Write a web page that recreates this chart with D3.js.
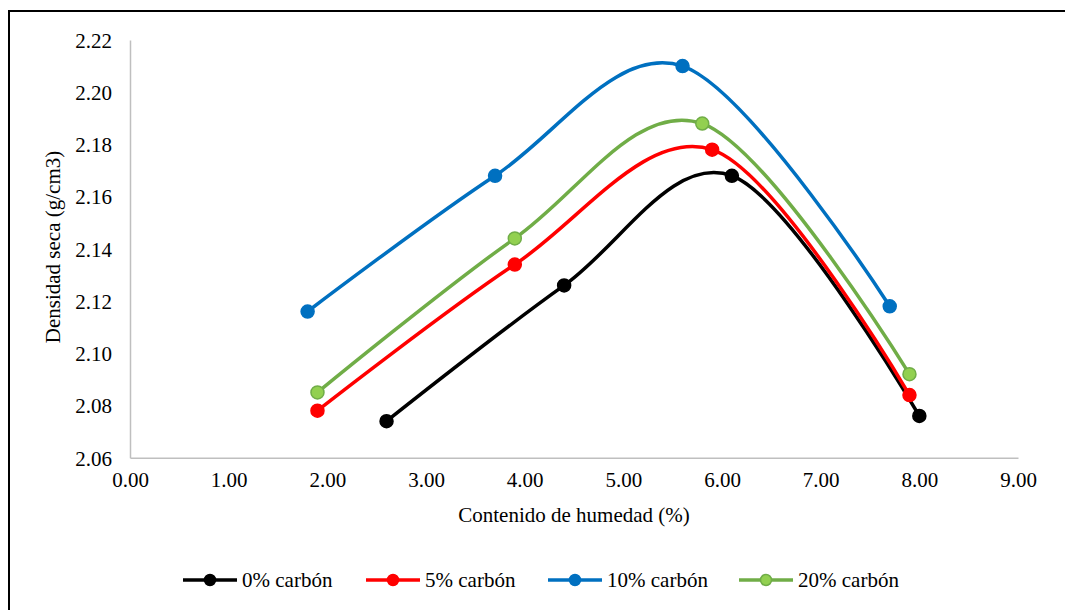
<!DOCTYPE html>
<html>
<head>
<meta charset="utf-8">
<script src="https://cdn.jsdelivr.net/npm/d3@7"></script>
<style>
  html, body { margin: 0; padding: 0; background: #fff; }
  svg { display: block; font-family: 'Liberation Serif'; }
  svg text { font-family: 'Liberation Serif' !important; }
</style>
</head>
<body>
<script>
// ---- Data ----
const seriesNames = ["0% carbón", "5% carbón", "10% carbón", "20% carbón"];
const humedad0  = [2.6, 4.4, 6.1, 8.0];
const densidad0 = [2.074, 2.126, 2.168, 2.076];
const humedad5  = [1.9, 3.9, 5.9, 7.9];
const densidad5 = [2.078, 2.134, 2.178, 2.084];
const humedad10  = [1.8, 3.7, 5.6, 7.7];
const densidad10 = [2.116, 2.168, 2.210, 2.118];
const humedad20  = [1.9, 3.9, 5.8, 7.9];
const densidad20 = [2.085, 2.144, 2.188, 2.092];
const xTicks = [0, 1, 2, 3, 4, 5, 6, 7, 8, 9];
const yTicks = [2.06, 2.08, 2.10, 2.12, 2.14, 2.16, 2.18, 2.20, 2.22];
const xTitle = "Contenido de humedad (%)";
const yTitle = "Densidad seca (g/cm3)";

const FONT = "Liberation Serif";
const FS = 21;

const styles = [
  { line: "#000000", fill: "#000000", stroke: "#000000" },
  { line: "#FF0000", fill: "#FF0000", stroke: "#FF0000" },
  { line: "#0070C0", fill: "#0070C0", stroke: "#0070C0" },
  { line: "#70AD47", fill: "#92D050", stroke: "#70AD47" }
];

const series = [
  { name: seriesNames[0], xs: humedad0, ys: densidad0 },
  { name: seriesNames[1], xs: humedad5, ys: densidad5 },
  { name: seriesNames[2], xs: humedad10, ys: densidad10 },
  { name: seriesNames[3], xs: humedad20, ys: densidad20 }
].map((s, i) => ({ ...s, style: styles[i], pts: s.xs.map((xv, j) => [xv, s.ys[j]]) }));

const W = 1065, H = 610;
const svg = d3.select("body").append("svg").attr("width", W).attr("height", H)
  .attr("font-family", FONT);

// chart border
svg.append("rect").attr("x", 9).attr("y", 11).attr("width", W + 20).attr("height", H + 20)
  .attr("fill", "none").attr("stroke", "#000").attr("stroke-width", 2);

const xScale = d3.scaleLinear().domain([0, 9]).range([130, 1018]);
const yScale = d3.scaleLinear().domain([2.06, 2.22]).range([457.7, 40]);

// axes
const xAxis = d3.axisBottom(xScale).tickValues(xTicks).tickFormat(d3.format(".2f")).tickSize(0).tickPadding(14);
const yAxis = d3.axisLeft(yScale).tickValues(yTicks).tickFormat(d3.format(".2f")).tickSize(0).tickPadding(18);

const gx = svg.append("g").attr("transform", `translate(0,${yScale(2.06)})`).call(xAxis);
const gy = svg.append("g").attr("transform", `translate(${xScale(0)},0)`).call(yAxis);
[gx, gy].forEach(g => {
  g.attr("font-family", FONT).attr("font-size", FS);
  g.select(".domain").attr("stroke", "#BFBFBF").attr("stroke-width", 1.5);
  g.selectAll("text").style("font-family", FONT).attr("font-size", FS).attr("fill", "#000");
});
gy.selectAll("text").attr("dy", "0.35em");

// axis titles
svg.append("text").attr("x", 574).attr("y", 522).attr("text-anchor", "middle")
  .style("font-family", FONT).attr("font-size", FS).text(xTitle);
svg.append("text").attr("transform", `translate(60,247) rotate(-90)`).attr("text-anchor", "middle")
  .style("font-family", FONT).attr("font-size", FS).text(yTitle);

// lines
const line = d3.line().x(d => xScale(d[0])).y(d => yScale(d[1])).curve(d3.curveCardinal.tension(0));
const plot = svg.append("g");
series.forEach(s => {
  plot.append("path").datum(s.pts).attr("d", line)
    .attr("fill", "none").attr("stroke", s.style.line).attr("stroke-width", 3.5)
    .attr("stroke-linejoin", "round").attr("stroke-linecap", "round");
});
series.forEach(s => {
  plot.selectAll(null).data(s.pts).enter().append("circle")
    .attr("cx", d => xScale(d[0])).attr("cy", d => yScale(d[1])).attr("r", 6.5)
    .attr("fill", s.style.fill).attr("stroke", s.style.stroke).attr("stroke-width", 1.5);
});

// legend
const legendX = [183, 366, 548, 739];
const legendY = 580;
const lg = svg.append("g");
series.forEach((s, i) => {
  const g = lg.append("g").attr("transform", `translate(${legendX[i]},${legendY})`);
  g.append("line").attr("x1", 0).attr("x2", 54).attr("y1", 0).attr("y2", 0)
    .attr("stroke", s.style.line).attr("stroke-width", 3.5);
  g.append("circle").attr("cx", 27).attr("cy", 0).attr("r", 5.5)
    .attr("fill", s.style.fill).attr("stroke", s.style.stroke).attr("stroke-width", 1.5);
  g.append("text").attr("x", 59).attr("y", 7).style("font-family", FONT).attr("font-size", FS).text(s.name);
});
</script>
</body>
</html>
